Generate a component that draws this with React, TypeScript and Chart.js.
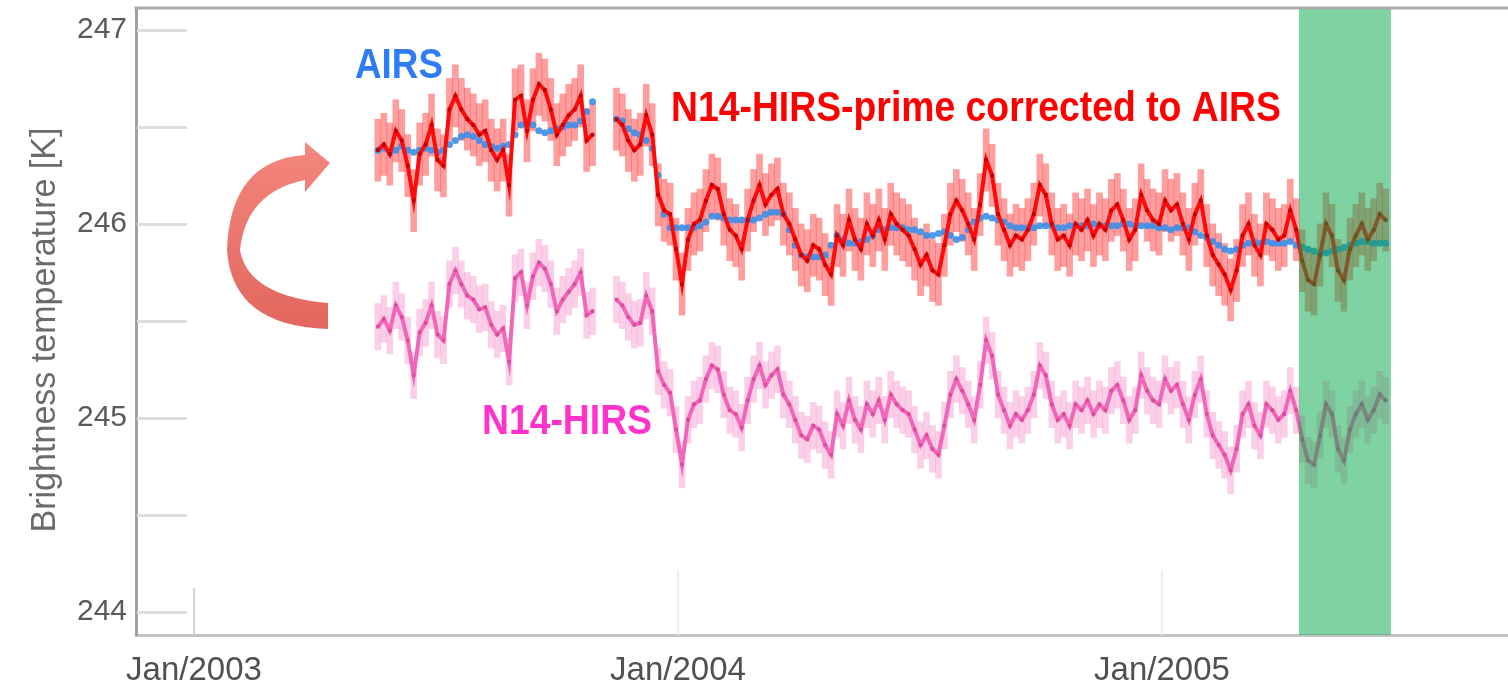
import React, { useEffect, useRef } from 'react';
import { Chart, registerables } from 'chart.js';

Chart.register(...registerables);

// ---- sampling of the daily series (decimal years) ----
const SAMPLE_START_YEAR = 2003.38;
const SAMPLE_STEP_DAYS = 4.5;

// ---- AIRS brightness temperature [K] ----
const AIRS_K: (number | null)[] = [
  246.38, 246.39, 246.37, 246.38, 246.40, 246.38, 246.37, 246.38, 246.39, 246.38,
  246.37, 246.38, 246.41, 246.43, 246.45, 246.46, 246.45, 246.43, 246.41, 246.40,
  246.39, 246.40, 246.41, 246.46, 246.51, 246.52, 246.51, 246.48, 246.47, 246.48,
  246.49, 246.50, 246.51, 246.51, 246.53, 246.58, 246.63, null, null, null,
  246.54, 246.53, 246.49, 246.47, 246.46, 246.43, 246.39, 246.25, 246.05, 245.98,
  245.98, 245.98, 245.98, 245.98, 245.99, 246.01, 246.04, 246.04, 246.03, 246.02,
  246.02, 246.02, 246.02, 246.02, 246.03, 246.05, 246.06, 246.06, 246.05, 245.97,
  245.89, 245.84, 245.83, 245.83, 245.83, 245.84, 245.89, 245.94, 245.92, 245.90,
  245.90, 245.91, 245.92, 245.94, 245.97, 245.97, 245.98, 245.98, 245.98, 245.97,
  245.97, 245.96, 245.94, 245.94, 245.95, 245.96, 245.94, 245.92, 245.93, 245.97,
  246.01, 246.03, 246.04, 246.03, 246.02, 246.01, 245.99, 245.98, 245.98, 245.98,
  245.98, 245.99, 245.99, 245.99, 245.98, 245.98, 245.99, 245.99, 245.99, 245.99,
  246.00, 245.99, 245.99, 245.99, 245.99, 246.00, 246.00, 245.99, 245.99, 245.99,
  245.99, 245.98, 245.98, 245.97, 245.98, 245.98, 245.98, 245.96, 245.94, 245.93,
  245.91, 245.89, 245.87, 245.86, 245.87, 245.89, 245.90, 245.91, 245.90, 245.91,
  245.90, 245.90, 245.90, 245.91, 245.89, 245.88, 245.87, 245.86, 245.85, 245.85,
  245.86, 245.87, 245.88, 245.89, 245.90, 245.91, 245.91, 245.90, 245.90, 245.90,
];

// ---- N14-HIRS-prime corrected to AIRS [K] ----
const N14_CORRECTED_K: (number | null)[] = [
  246.38, 246.41, 246.36, 246.48, 246.43, 246.30, 246.12, 246.36, 246.41, 246.51,
  246.33, 246.30, 246.59, 246.66, 246.59, 246.54, 246.51, 246.46, 246.48, 246.38,
  246.33, 246.38, 246.20, 246.64, 246.66, 246.48, 246.64, 246.72, 246.69, 246.59,
  246.46, 246.51, 246.56, 246.59, 246.66, 246.43, 246.46, null, null, null,
  246.54, 246.51, 246.43, 246.38, 246.41, 246.56, 246.46, 246.15, 246.07, 246.05,
  245.87, 245.69, 245.92, 246.00, 246.02, 246.12, 246.20, 246.18, 246.05, 245.97,
  245.94, 245.87, 246.02, 246.12, 246.20, 246.10, 246.15, 246.18, 246.05, 246.00,
  245.92, 245.84, 245.81, 245.89, 245.87, 245.79, 245.74, 245.94, 245.89, 246.02,
  245.92, 245.87, 246.00, 245.94, 246.02, 245.92, 246.05, 246.00, 245.97, 245.94,
  245.87, 245.79, 245.84, 245.76, 245.74, 245.89, 246.05, 246.12, 246.07, 246.00,
  245.92, 246.10, 246.33, 246.25, 246.05, 245.97, 245.89, 245.94, 245.92, 245.97,
  246.05, 246.20, 246.15, 246.00, 245.92, 245.94, 245.89, 246.00, 245.97, 246.02,
  245.94, 246.00, 245.97, 246.07, 246.10, 246.02, 245.92, 245.97, 246.15, 246.07,
  246.02, 246.00, 246.12, 246.07, 246.10, 246.00, 245.92, 246.05, 246.12, 245.94,
  245.84, 245.79, 245.74, 245.66, 245.76, 245.94, 246.00, 245.89, 245.84, 246.00,
  245.97, 245.92, 245.94, 246.07, 245.97, 245.81, 245.71, 245.69, 245.84, 246.00,
  245.94, 245.76, 245.71, 245.87, 245.94, 246.00, 245.92, 245.97, 246.05, 246.02,
];

// ---- N14-HIRS (uncorrected) [K] ----
const N14_HIRS_K: (number | null)[] = [
  245.47, 245.51, 245.45, 245.58, 245.52, 245.40, 245.22, 245.44, 245.49, 245.58,
  245.43, 245.40, 245.69, 245.76, 245.69, 245.63, 245.61, 245.56, 245.57, 245.48,
  245.43, 245.46, 245.29, 245.72, 245.75, 245.58, 245.73, 245.80, 245.77, 245.69,
  245.55, 245.61, 245.65, 245.69, 245.75, 245.53, 245.55, null, null, null,
  245.61, 245.58, 245.52, 245.48, 245.49, 245.63, 245.55, 245.24, 245.17, 245.13,
  244.94, 244.76, 244.99, 245.07, 245.09, 245.20, 245.27, 245.25, 245.12, 245.04,
  245.02, 244.95, 245.09, 245.20, 245.27, 245.17, 245.22, 245.25, 245.12, 245.07,
  244.99, 244.91, 244.89, 244.96, 244.94, 244.86, 244.81, 245.02, 244.96, 245.09,
  244.99, 244.94, 245.07, 245.02, 245.09, 244.99, 245.12, 245.07, 245.04, 245.02,
  244.94, 244.86, 244.91, 244.84, 244.81, 244.96, 245.12, 245.20, 245.14, 245.07,
  244.99, 245.17, 245.40, 245.32, 245.12, 245.04, 244.96, 245.02, 244.99, 245.04,
  245.12, 245.27, 245.22, 245.07, 244.99, 245.02, 244.96, 245.07, 245.04, 245.09,
  245.02, 245.07, 245.04, 245.14, 245.17, 245.09, 244.99, 245.04, 245.22, 245.14,
  245.09, 245.07, 245.20, 245.14, 245.17, 245.07, 244.99, 245.12, 245.20, 245.02,
  244.91, 244.86, 244.81, 244.73, 244.84, 245.02, 245.07, 244.96, 244.91, 245.07,
  245.04, 244.99, 245.02, 245.14, 245.04, 244.89, 244.78, 244.76, 244.91, 245.07,
  245.02, 244.84, 244.78, 244.94, 245.02, 245.07, 244.99, 245.04, 245.12, 245.09,
];

const N14_CORRECTED_ERR_K = 0.16;
const N14_HIRS_ERR_K = 0.12;

// ---- axes ----
const X_TICKS = [2003, 2004, 2005];
const X_TICK_LABELS = ['Jan/2003', 'Jan/2004', 'Jan/2005'];
const Y_TICKS = [244, 244.5, 245, 245.5, 246, 246.5, 247];
const Y_TICK_LABELS = ['244', '', '245', '', '246', '', '247'];
const X_RANGE = [2002.8802, 2005.7149];
const Y_RANGE = [243.881, 247.113];
const Y_TITLE = 'Brightness temperature [K]';

// ---- highlighted period (decimal years) ----
const BAND = [2005.283, 2005.473];

// ---- in-plot labels (anchored in data units) ----
const LABELS = [
  { text: 'AIRS', x: 2003.3326, y: 246.753, width: 88, color: '#2e7cf6' },
  { text: 'N14-HIRS-prime corrected to AIRS', x: 2003.9855, y: 246.531, width: 610, color: '#ff0000' },
  { text: 'N14-HIRS', x: 2003.5950, y: 244.918, width: 170, color: '#ff33cc' },
];

const FONT = '"Liberation Sans", Arial, Helvetica, sans-serif';

function drawFitted(ctx: CanvasRenderingContext2D, text: string, x: number, y: number, width: number, font: string, color: string, align: 'left' | 'center' = 'left') {
  ctx.save();
  ctx.font = font;
  ctx.fillStyle = color;
  ctx.textBaseline = 'alphabetic';
  ctx.textAlign = align;
  const w = ctx.measureText(text).width;
  ctx.translate(x, y);
  ctx.scale(width / w, 1);
  ctx.fillText(text, 0, 0);
  ctx.restore();
}

export default function App() {
  const ref = useRef<HTMLCanvasElement>(null);

  useEffect(() => {
    const canvas = ref.current;
    if (!canvas) return;

    const xs = AIRS_K.map((_, i) => SAMPLE_START_YEAR + (i * SAMPLE_STEP_DAYS) / 365.25);
    const pts = (arr: (number | null)[]) => arr.map((v, i) => ({ x: xs[i], y: v }));
    const bars = (arr: (number | null)[], e: number) =>
      arr
        .map((v, i) => (v == null ? null : { x: xs[i], y: [v - e, v + e] }))
        .filter((p) => p !== null);

    const decor = {
      id: 'decor',
      beforeDatasetsDraw(chart: any) {
        const { ctx, chartArea: a, scales } = chart;
        const x = scales.x, y = scales.y;
        ctx.save();
        ctx.strokeStyle = '#dddddd';
        ctx.lineWidth = 3;
        Y_TICKS.forEach((t) => {
          const py = Math.round(y.getPixelForValue(t)) + 0.5;
          ctx.beginPath();
          ctx.moveTo(a.left + 1, py);
          ctx.lineTo(a.left + 51, py);
          ctx.stroke();
        });
        ctx.lineWidth = 2;
        X_TICKS.forEach((t, i) => {
          const px = Math.round(x.getPixelForValue(t));
          ctx.strokeStyle = i === 0 ? '#d4d4d4' : '#eeeeee';
          ctx.beginPath();
          ctx.moveTo(px, a.bottom);
          ctx.lineTo(px, a.bottom - (i === 0 ? 47 : 65));
          ctx.stroke();
        });
        ctx.restore();
      },
      afterDatasetsDraw(chart: any) {
        const { ctx, chartArea: a, scales } = chart;
        const x = scales.x;
        const p0 = x.getPixelForValue(BAND[0]);
        const p1 = x.getPixelForValue(BAND[1]);
        ctx.save();
        ctx.fillStyle = 'rgba(0,168,70,0.5)';
        ctx.fillRect(p0, a.top, p1 - p0, a.bottom - a.top);
        ctx.restore();
      },
      afterDraw(chart: any) {
        const { ctx, chartArea: a, scales } = chart;
        const x = scales.x, y = scales.y;
        ctx.save();
        // top frame line
        ctx.strokeStyle = '#a9a9a9';
        ctx.lineWidth = 3;
        ctx.beginPath();
        ctx.moveTo(a.left - 1.5, a.top);
        ctx.lineTo(a.right, a.top);
        ctx.stroke();

        // curved arrow
        const g = ctx.createLinearGradient(0, 140, 0, 330);
        g.addColorStop(0, '#f4877e');
        g.addColorStop(1, '#e2665e');
        ctx.fillStyle = g;
        ctx.beginPath();
        ctx.moveTo(305, 142);
        ctx.lineTo(330, 163);
        ctx.lineTo(305, 192);
        ctx.lineTo(305, 180);
        ctx.quadraticCurveTo(246, 192, 240, 250);
        ctx.quadraticCurveTo(248, 296, 328, 303);
        ctx.lineTo(328, 329);
        ctx.quadraticCurveTo(232, 326, 227, 250);
        ctx.quadraticCurveTo(230, 160, 305, 155);
        ctx.closePath();
        ctx.fill();
        ctx.restore();

        // in-plot labels
        LABELS.forEach((l) => {
          drawFitted(ctx, l.text, x.getPixelForValue(l.x), y.getPixelForValue(l.y), l.width, `bold 42px ${FONT}`, l.color);
        });

        // y axis title
        ctx.save();
        ctx.translate(55, 330);
        ctx.rotate(-Math.PI / 2);
        drawFitted(ctx, Y_TITLE, 0, 0, 405, `35px ${FONT}`, '#6b6b6b', 'center');
        ctx.restore();
      },
    };

    const chart = new Chart(canvas, {
      type: 'scatter',
      data: {
        datasets: [
          {
            type: 'scatter',
            label: 'N14-HIRS-prime corrected to AIRS',
            data: pts(N14_CORRECTED_K),
            pointStyle: 'rect',
            pointRadius: 2.6,
            pointBackgroundColor: '#c00000',
            pointBorderWidth: 0,
            showLine: false,
            order: 0,
          },
          {
            type: 'line',
            label: 'corrected line',
            data: pts(N14_CORRECTED_K),
            borderColor: '#ff0a0a',
            borderWidth: 4,
            pointRadius: 0,
            spanGaps: false,
            order: 1,
          },
          {
            type: 'scatter',
            label: 'AIRS',
            data: pts(AIRS_K),
            pointRadius: 3.5,
            pointBackgroundColor: 'rgba(58,142,232,0.9)',
            pointBorderWidth: 0,
            showLine: false,
            order: 2,
          },
          {
            type: 'bar',
            label: 'corrected err',
            data: bars(N14_CORRECTED_K, N14_CORRECTED_ERR_K) as any,
            backgroundColor: 'rgba(255,40,40,0.45)',
            barThickness: 6,
            grouped: false,
            order: 3,
          },
          {
            type: 'scatter',
            label: 'N14-HIRS',
            data: pts(N14_HIRS_K),
            pointStyle: 'rect',
            pointRadius: 2.5,
            pointBackgroundColor: '#d84c9a',
            pointBorderWidth: 0,
            showLine: false,
            order: 4,
          },
          {
            type: 'line',
            label: 'hirs line',
            data: pts(N14_HIRS_K),
            borderColor: '#f266ba',
            borderWidth: 4,
            pointRadius: 0,
            spanGaps: false,
            order: 5,
          },
          {
            type: 'bar',
            label: 'hirs err',
            data: bars(N14_HIRS_K, N14_HIRS_ERR_K) as any,
            backgroundColor: 'rgba(248,140,200,0.42)',
            barThickness: 6,
            grouped: false,
            order: 6,
          },
        ] as any,
      },
      options: {
        animation: false,
        responsive: false,
        maintainAspectRatio: false,
        layout: { autoPadding: false, padding: { top: 8, right: 0, bottom: 0, left: 0 } },
        plugins: { legend: { display: false }, tooltip: { enabled: false } },
        scales: {
          x: {
            type: 'linear',
            min: X_RANGE[0],
            max: X_RANGE[1],
            offset: false,
            grid: { display: false, offset: false },
            border: { display: true, color: '#c4c4c4', width: 3 },
            afterBuildTicks: (s: any) => {
              s.ticks = X_TICKS.map((v) => ({ value: v }));
            },
            afterFit: (s: any) => {
              s.height = 47;
              s.paddingLeft = 0;
              s.paddingRight = 0;
            },
            ticks: {
              autoSkip: false,
              maxRotation: 0,
              padding: 8,
              color: '#505050',
              font: { family: FONT, size: 33 },
              callback: (v: any) => X_TICK_LABELS[X_TICKS.indexOf(Number(v))] ?? '',
            },
          },
          y: {
            type: 'linear',
            min: Y_RANGE[0],
            max: Y_RANGE[1],
            grid: { display: false },
            border: { display: true, color: '#a0a0a0', width: 3 },
            afterBuildTicks: (s: any) => {
              s.ticks = Y_TICKS.map((v) => ({ value: v }));
            },
            afterFit: (s: any) => {
              s.width = 136;
              s.paddingTop = 0;
              s.paddingBottom = 0;
            },
            ticks: {
              autoSkip: false,
              padding: 1,
              color: '#5a5a5a',
              font: { family: FONT, size: 30 },
              callback: (v: any) => Y_TICK_LABELS[Y_TICKS.indexOf(Number(v))] ?? '',
            },
          },
        },
      } as any,
      plugins: [decor],
    });

    return () => chart.destroy();
  }, []);

  return (
    <div style={{ position: 'absolute', left: 0, top: 0, width: 1508, height: 682, background: '#ffffff' }}>
      <canvas ref={ref} width={1508} height={682} style={{ display: 'block', width: 1508, height: 682 }} />
    </div>
  );
}
